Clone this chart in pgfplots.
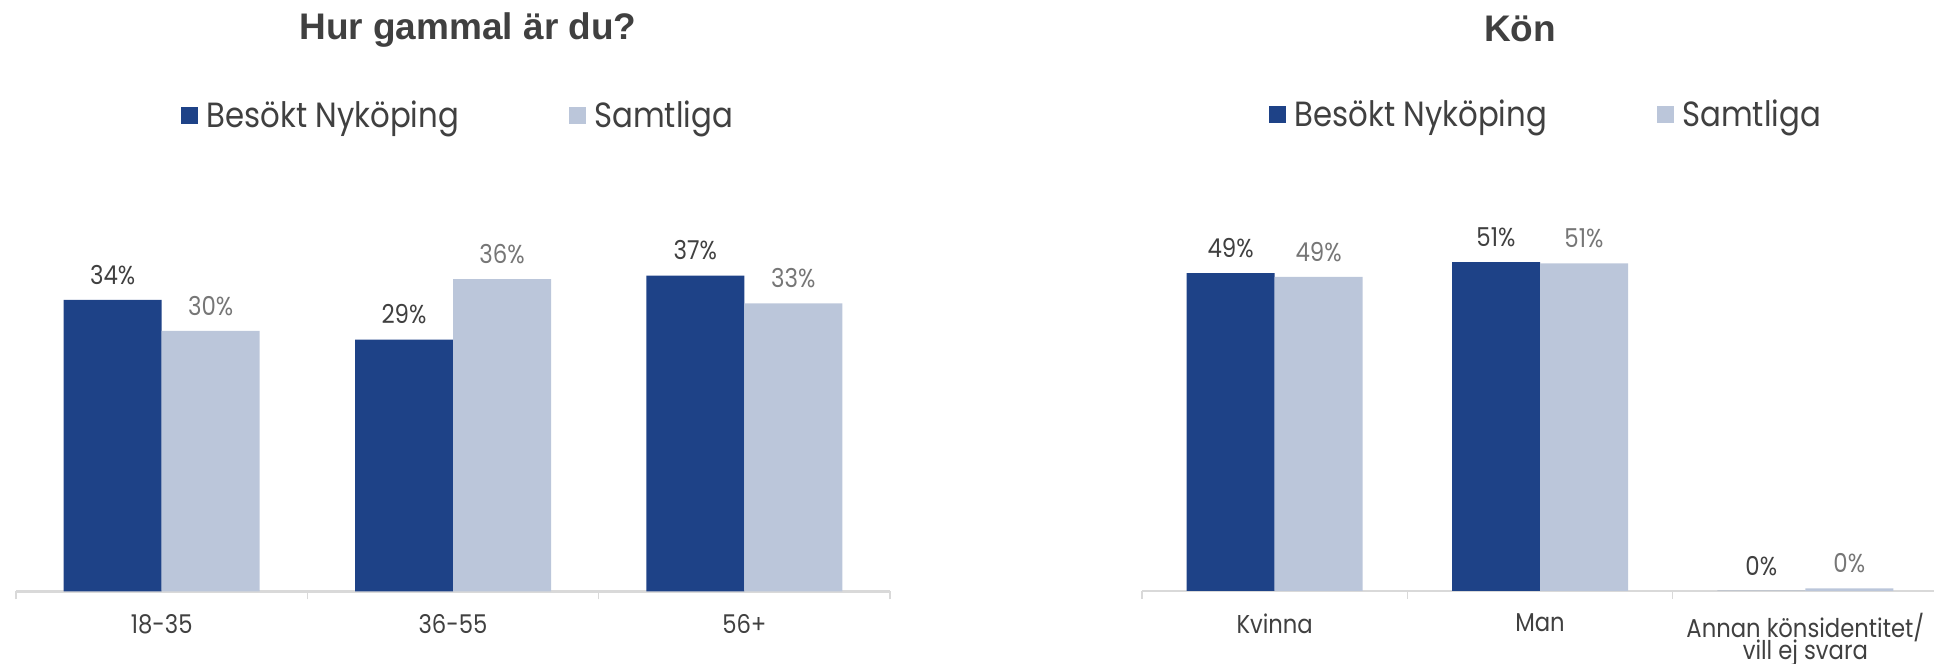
\documentclass[border=0pt]{standalone}
\usepackage{fontspec}
\usepackage{pgfplots}
\pgfplotsset{compat=1.18}
\setmainfont[FakeStretch=0.88]{Poppins}
\newfontfamily\titlefont{Liberation Sans}
\definecolor{dkblue}{RGB}{30,66,135}
\definecolor{ltblue}{RGB}{187,198,218}
\definecolor{txt}{RGB}{64,64,64}
\definecolor{lbl2}{RGB}{118,118,118}
\definecolor{axgray}{RGB}{217,217,217}
\pgfplotsset{
  common/.style={
    scale only axis, ymin=0, xmin=0, xmax=3,
    axis x line*=bottom, axis y line=none,
    x axis line style={axgray, line width=1.2pt, -},
    xtick={0,1,2,3}, xticklabels={},
    major tick length=4pt, tick align=outside,
    tick style={axgray, line width=0.8pt},
    extra x ticks={0.5,1.5,2.5},
    extra x tick style={major tick length=0pt, tick style={draw=none},
      tick label style={font=\fontsize{12.9}{12.6}\selectfont, text=txt, align=center, anchor=north, inner ysep=0.5pt, yshift=-10.6pt}},
    /pgf/number format/assume math mode=true,
    nodes near coords={\pgfmathprintnumber[fixed,precision=0]{\pgfplotspointmeta}\%},
    every node near coord/.append style={font=\fontsize{13}{15}\selectfont, anchor=south, yshift=4.2pt},
    legend style={draw=none, fill=none, legend columns=2, font=\fontsize{17.5}{19}\selectfont, text=txt,
      /tikz/every even column/.append style={column sep=53pt}},
    legend image code/.code={\fill[##1] (0pt,-4.25pt) rectangle (8.5pt,4.25pt); \path (10.7pt,0pt);},
    title style={font=\titlefont\bfseries\fontsize{18.5}{22}\selectfont, text=txt, anchor=center},
  }
}
\begin{document}
\begin{tikzpicture}
\useasboundingbox (0,0) rectangle (967pt,332pt);
% Left chart
\begin{axis}[common, at={(8pt,36.25pt)}, anchor=south west,
  width=437pt, height=172.6pt, ymax=40,
  extra x tick labels={18-35,36-55,56+},
  title={Hur gammal är du?}, title style={at={(0.5,1)}, xshift=7.5pt, yshift=102.35pt},
  legend style={at={(0.5,1)}, anchor=center, xshift=3pt, yshift=65.5pt},
]
\addplot[ybar, bar width=49pt, bar shift=-24.5pt, fill=dkblue, draw=none,
  every node near coord/.append style={text=txt, xshift=-24.5pt}]
  coordinates {(0.5,33.8) (1.5,29.2) (2.5,36.6)};
\addplot[ybar, bar width=49pt, bar shift=24.5pt, fill=ltblue, draw=none,
  every node near coord/.append style={text=lbl2, xshift=24.5pt}]
  coordinates {(0.5,30.2) (1.5,36.2) (2.5,33.4)};
\legend{Besökt Nyköping, Samtliga}
\end{axis}
% Right chart
\begin{axis}[common, at={(571pt,36.5pt)}, anchor=south west,
  width=398pt, height=193.5pt, ymax=60,
  extra x tick labels={Kvinna,Man,{Annan könsidentitet/\\[-2pt]vill ej svara}},
  title={Kön}, title style={at={(0.5,1)}, xshift=-10pt, yshift=81.6pt},
  legend style={at={(0.5,1)}, anchor=center, xshift=3.5pt, yshift=44.5pt},
]
\addplot[ybar, bar width=44pt, bar shift=-22pt, fill=dkblue, draw=none,
  every node near coord/.append style={text=txt, xshift=-22pt}]
  coordinates {(0.5,49.3) (1.5,51.0) (2.5,0)};
\addplot[ybar, bar width=44pt, bar shift=22pt, fill=ltblue, draw=none,
  every node near coord/.append style={text=lbl2, xshift=22pt}]
  coordinates {(0.5,48.7) (1.5,50.8) (2.5,0.4)};
\legend{Besökt Nyköping, Samtliga}
\end{axis}
\end{tikzpicture}
\end{document}
